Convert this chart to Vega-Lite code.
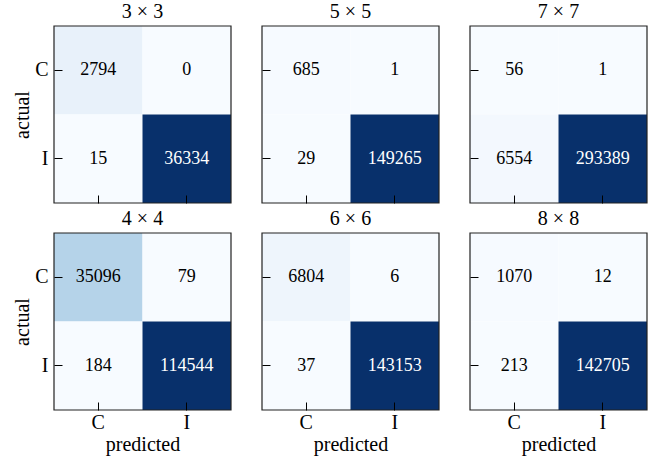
{
  "$schema": "https://vega.github.io/schema/vega-lite/v6.json",
  "padding": {"left": 12, "top": 2, "right": 15, "bottom": 5},
  "bounds": "flush",
  "columns": 3,
  "spacing": {"row": 30, "column": 31},
  "resolve": {"scale": {"color": "independent"}},
  "config": {
    "font": "Liberation Serif",
    "view": {"stroke": null},
    "title": {"font": "Liberation Serif", "fontSize": 20, "fontWeight": "normal", "color": "#000", "offset": 3},
    "axis": {
      "domain": false,
      "grid": false,
      "ticks": true,
      "tickSize": -8,
      "tickColor": "#000",
      "tickWidth": 1,
      "labelFont": "Liberation Serif",
      "labelFontSize": 20,
      "labelColor": "#000",
      "titleFont": "Liberation Serif",
      "titleFontSize": 20,
      "titleFontWeight": "normal",
      "titleColor": "#000",
      "titlePadding": 2
    },
    "axisX": {"labelPadding": 10, "labelAngle": 0},
    "axisY": {"labelPadding": 14}
  },
  "datasets": {
    "cm": [
      {"grid": "3 × 3", "actual": "C", "predicted": "C", "count": 2794},
      {"grid": "3 × 3", "actual": "C", "predicted": "I", "count": 0},
      {"grid": "3 × 3", "actual": "I", "predicted": "C", "count": 15},
      {"grid": "3 × 3", "actual": "I", "predicted": "I", "count": 36334},
      {"grid": "5 × 5", "actual": "C", "predicted": "C", "count": 685},
      {"grid": "5 × 5", "actual": "C", "predicted": "I", "count": 1},
      {"grid": "5 × 5", "actual": "I", "predicted": "C", "count": 29},
      {"grid": "5 × 5", "actual": "I", "predicted": "I", "count": 149265},
      {"grid": "7 × 7", "actual": "C", "predicted": "C", "count": 56},
      {"grid": "7 × 7", "actual": "C", "predicted": "I", "count": 1},
      {"grid": "7 × 7", "actual": "I", "predicted": "C", "count": 6554},
      {"grid": "7 × 7", "actual": "I", "predicted": "I", "count": 293389},
      {"grid": "4 × 4", "actual": "C", "predicted": "C", "count": 35096},
      {"grid": "4 × 4", "actual": "C", "predicted": "I", "count": 79},
      {"grid": "4 × 4", "actual": "I", "predicted": "C", "count": 184},
      {"grid": "4 × 4", "actual": "I", "predicted": "I", "count": 114544},
      {"grid": "6 × 6", "actual": "C", "predicted": "C", "count": 6804},
      {"grid": "6 × 6", "actual": "C", "predicted": "I", "count": 6},
      {"grid": "6 × 6", "actual": "I", "predicted": "C", "count": 37},
      {"grid": "6 × 6", "actual": "I", "predicted": "I", "count": 143153},
      {"grid": "8 × 8", "actual": "C", "predicted": "C", "count": 1070},
      {"grid": "8 × 8", "actual": "C", "predicted": "I", "count": 12},
      {"grid": "8 × 8", "actual": "I", "predicted": "C", "count": 213},
      {"grid": "8 × 8", "actual": "I", "predicted": "I", "count": 142705}
    ],
    "frame": [{"box": 1}]
  },
  "concat": [
    {
      "title": "3 × 3", "width": 177, "height": 177,
      "layer": [
        {"data": {"name": "cm"}, "transform": [{"filter": "datum.grid === '3 × 3'"}], "mark": "rect", "encoding": {
          "x": {"field": "predicted", "type": "nominal", "sort": ["C", "I"], "scale": {"paddingInner": 0, "paddingOuter": 0}, "axis": {"labels": false, "title": null}},
          "y": {"field": "actual", "type": "nominal", "sort": ["C", "I"], "scale": {"paddingInner": 0, "paddingOuter": 0}, "axis": {"title": "actual"}},
          "color": {"field": "count", "type": "quantitative", "legend": null, "scale": {"zero": false, "nice": false, "range": ["#f7fbff", "#deebf7", "#c6dbef", "#9ecae1", "#6baed6", "#4292c6", "#2171b5", "#08519c", "#08306b"]}}}},
        {"data": {"name": "cm"}, "transform": [{"filter": "datum.grid === '3 × 3'"}, {"joinaggregate": [{"op": "max", "field": "count", "as": "hi"}, {"op": "min", "field": "count", "as": "lo"}]}], "mark": {"type": "text", "fontSize": 18, "font": "Liberation Serif"}, "encoding": {
          "x": {"field": "predicted", "type": "nominal", "sort": ["C", "I"]},
          "y": {"field": "actual", "type": "nominal", "sort": ["C", "I"]},
          "text": {"field": "count", "type": "quantitative", "format": "d"},
          "color": {"condition": {"test": "datum.count > (datum.hi + datum.lo) / 2", "value": "#ffffff"}, "value": "#000000"}}},
        {"data": {"name": "frame"}, "mark": {"type": "rect", "filled": false, "stroke": "#222222", "strokeWidth": 1.2}, "encoding": {}}
      ]
    },
    {
      "title": "5 × 5", "width": 177, "height": 177,
      "layer": [
        {"data": {"name": "cm"}, "transform": [{"filter": "datum.grid === '5 × 5'"}], "mark": "rect", "encoding": {
          "x": {"field": "predicted", "type": "nominal", "sort": ["C", "I"], "scale": {"paddingInner": 0, "paddingOuter": 0}, "axis": {"labels": false, "title": null}},
          "y": {"field": "actual", "type": "nominal", "sort": ["C", "I"], "scale": {"paddingInner": 0, "paddingOuter": 0}, "axis": {"labels": false, "title": null}},
          "color": {"field": "count", "type": "quantitative", "legend": null, "scale": {"zero": false, "nice": false, "range": ["#f7fbff", "#deebf7", "#c6dbef", "#9ecae1", "#6baed6", "#4292c6", "#2171b5", "#08519c", "#08306b"]}}}},
        {"data": {"name": "cm"}, "transform": [{"filter": "datum.grid === '5 × 5'"}, {"joinaggregate": [{"op": "max", "field": "count", "as": "hi"}, {"op": "min", "field": "count", "as": "lo"}]}], "mark": {"type": "text", "fontSize": 18, "font": "Liberation Serif"}, "encoding": {
          "x": {"field": "predicted", "type": "nominal", "sort": ["C", "I"]},
          "y": {"field": "actual", "type": "nominal", "sort": ["C", "I"]},
          "text": {"field": "count", "type": "quantitative", "format": "d"},
          "color": {"condition": {"test": "datum.count > (datum.hi + datum.lo) / 2", "value": "#ffffff"}, "value": "#000000"}}},
        {"data": {"name": "frame"}, "mark": {"type": "rect", "filled": false, "stroke": "#222222", "strokeWidth": 1.2}, "encoding": {}}
      ]
    },
    {
      "title": "7 × 7", "width": 177, "height": 177,
      "layer": [
        {"data": {"name": "cm"}, "transform": [{"filter": "datum.grid === '7 × 7'"}], "mark": "rect", "encoding": {
          "x": {"field": "predicted", "type": "nominal", "sort": ["C", "I"], "scale": {"paddingInner": 0, "paddingOuter": 0}, "axis": {"labels": false, "title": null}},
          "y": {"field": "actual", "type": "nominal", "sort": ["C", "I"], "scale": {"paddingInner": 0, "paddingOuter": 0}, "axis": {"labels": false, "title": null}},
          "color": {"field": "count", "type": "quantitative", "legend": null, "scale": {"zero": false, "nice": false, "range": ["#f7fbff", "#deebf7", "#c6dbef", "#9ecae1", "#6baed6", "#4292c6", "#2171b5", "#08519c", "#08306b"]}}}},
        {"data": {"name": "cm"}, "transform": [{"filter": "datum.grid === '7 × 7'"}, {"joinaggregate": [{"op": "max", "field": "count", "as": "hi"}, {"op": "min", "field": "count", "as": "lo"}]}], "mark": {"type": "text", "fontSize": 18, "font": "Liberation Serif"}, "encoding": {
          "x": {"field": "predicted", "type": "nominal", "sort": ["C", "I"]},
          "y": {"field": "actual", "type": "nominal", "sort": ["C", "I"]},
          "text": {"field": "count", "type": "quantitative", "format": "d"},
          "color": {"condition": {"test": "datum.count > (datum.hi + datum.lo) / 2", "value": "#ffffff"}, "value": "#000000"}}},
        {"data": {"name": "frame"}, "mark": {"type": "rect", "filled": false, "stroke": "#222222", "strokeWidth": 1.2}, "encoding": {}}
      ]
    },
    {
      "title": "4 × 4", "width": 177, "height": 177,
      "layer": [
        {"data": {"name": "cm"}, "transform": [{"filter": "datum.grid === '4 × 4'"}], "mark": "rect", "encoding": {
          "x": {"field": "predicted", "type": "nominal", "sort": ["C", "I"], "scale": {"paddingInner": 0, "paddingOuter": 0}, "axis": {"title": "predicted"}},
          "y": {"field": "actual", "type": "nominal", "sort": ["C", "I"], "scale": {"paddingInner": 0, "paddingOuter": 0}, "axis": {"title": "actual"}},
          "color": {"field": "count", "type": "quantitative", "legend": null, "scale": {"zero": false, "nice": false, "range": ["#f7fbff", "#deebf7", "#c6dbef", "#9ecae1", "#6baed6", "#4292c6", "#2171b5", "#08519c", "#08306b"]}}}},
        {"data": {"name": "cm"}, "transform": [{"filter": "datum.grid === '4 × 4'"}, {"joinaggregate": [{"op": "max", "field": "count", "as": "hi"}, {"op": "min", "field": "count", "as": "lo"}]}], "mark": {"type": "text", "fontSize": 18, "font": "Liberation Serif"}, "encoding": {
          "x": {"field": "predicted", "type": "nominal", "sort": ["C", "I"]},
          "y": {"field": "actual", "type": "nominal", "sort": ["C", "I"]},
          "text": {"field": "count", "type": "quantitative", "format": "d"},
          "color": {"condition": {"test": "datum.count > (datum.hi + datum.lo) / 2", "value": "#ffffff"}, "value": "#000000"}}},
        {"data": {"name": "frame"}, "mark": {"type": "rect", "filled": false, "stroke": "#222222", "strokeWidth": 1.2}, "encoding": {}}
      ]
    },
    {
      "title": "6 × 6", "width": 177, "height": 177,
      "layer": [
        {"data": {"name": "cm"}, "transform": [{"filter": "datum.grid === '6 × 6'"}], "mark": "rect", "encoding": {
          "x": {"field": "predicted", "type": "nominal", "sort": ["C", "I"], "scale": {"paddingInner": 0, "paddingOuter": 0}, "axis": {"title": "predicted"}},
          "y": {"field": "actual", "type": "nominal", "sort": ["C", "I"], "scale": {"paddingInner": 0, "paddingOuter": 0}, "axis": {"labels": false, "title": null}},
          "color": {"field": "count", "type": "quantitative", "legend": null, "scale": {"zero": false, "nice": false, "range": ["#f7fbff", "#deebf7", "#c6dbef", "#9ecae1", "#6baed6", "#4292c6", "#2171b5", "#08519c", "#08306b"]}}}},
        {"data": {"name": "cm"}, "transform": [{"filter": "datum.grid === '6 × 6'"}, {"joinaggregate": [{"op": "max", "field": "count", "as": "hi"}, {"op": "min", "field": "count", "as": "lo"}]}], "mark": {"type": "text", "fontSize": 18, "font": "Liberation Serif"}, "encoding": {
          "x": {"field": "predicted", "type": "nominal", "sort": ["C", "I"]},
          "y": {"field": "actual", "type": "nominal", "sort": ["C", "I"]},
          "text": {"field": "count", "type": "quantitative", "format": "d"},
          "color": {"condition": {"test": "datum.count > (datum.hi + datum.lo) / 2", "value": "#ffffff"}, "value": "#000000"}}},
        {"data": {"name": "frame"}, "mark": {"type": "rect", "filled": false, "stroke": "#222222", "strokeWidth": 1.2}, "encoding": {}}
      ]
    },
    {
      "title": "8 × 8", "width": 177, "height": 177,
      "layer": [
        {"data": {"name": "cm"}, "transform": [{"filter": "datum.grid === '8 × 8'"}], "mark": "rect", "encoding": {
          "x": {"field": "predicted", "type": "nominal", "sort": ["C", "I"], "scale": {"paddingInner": 0, "paddingOuter": 0}, "axis": {"title": "predicted"}},
          "y": {"field": "actual", "type": "nominal", "sort": ["C", "I"], "scale": {"paddingInner": 0, "paddingOuter": 0}, "axis": {"labels": false, "title": null}},
          "color": {"field": "count", "type": "quantitative", "legend": null, "scale": {"zero": false, "nice": false, "range": ["#f7fbff", "#deebf7", "#c6dbef", "#9ecae1", "#6baed6", "#4292c6", "#2171b5", "#08519c", "#08306b"]}}}},
        {"data": {"name": "cm"}, "transform": [{"filter": "datum.grid === '8 × 8'"}, {"joinaggregate": [{"op": "max", "field": "count", "as": "hi"}, {"op": "min", "field": "count", "as": "lo"}]}], "mark": {"type": "text", "fontSize": 18, "font": "Liberation Serif"}, "encoding": {
          "x": {"field": "predicted", "type": "nominal", "sort": ["C", "I"]},
          "y": {"field": "actual", "type": "nominal", "sort": ["C", "I"]},
          "text": {"field": "count", "type": "quantitative", "format": "d"},
          "color": {"condition": {"test": "datum.count > (datum.hi + datum.lo) / 2", "value": "#ffffff"}, "value": "#000000"}}},
        {"data": {"name": "frame"}, "mark": {"type": "rect", "filled": false, "stroke": "#222222", "strokeWidth": 1.2}, "encoding": {}}
      ]
    }
  ]
}
